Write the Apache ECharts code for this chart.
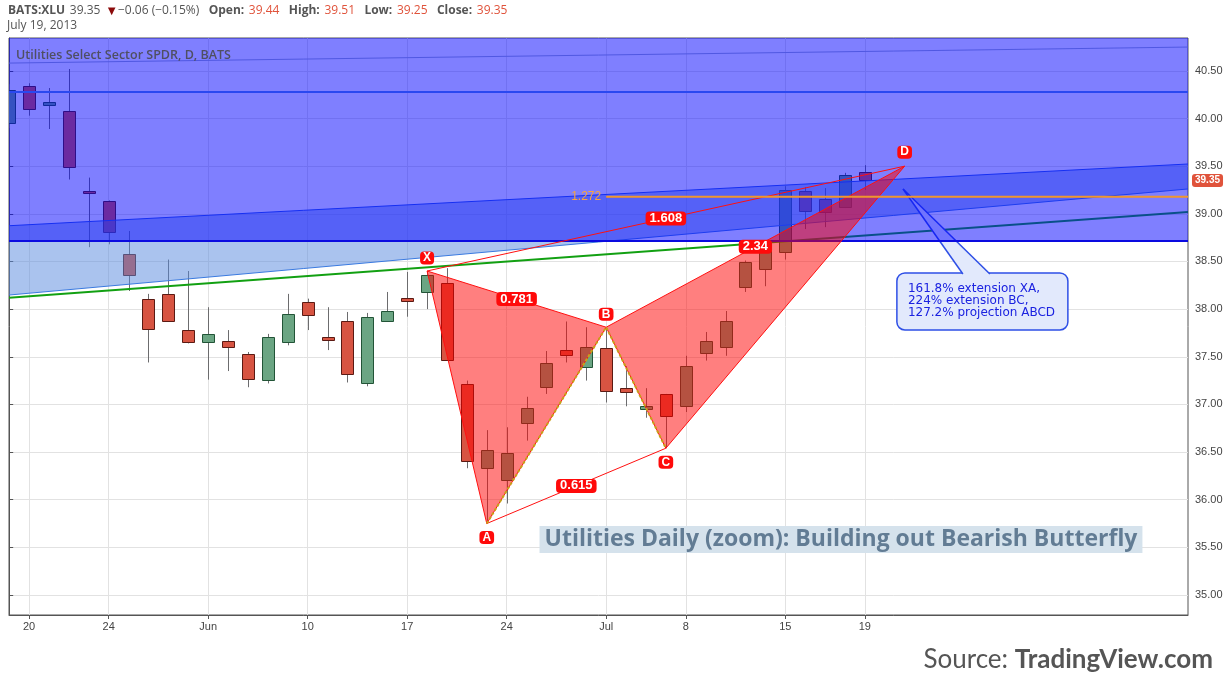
<!DOCTYPE html>
<html><head><meta charset="utf-8">
<script src="https://cdn.jsdelivr.net/npm/echarts@6/dist/echarts.min.js"></script>
<style>html,body{margin:0;padding:0;background:#fff}#chart{width:1227px;height:686px}</style>
</head><body><div id="chart"></div>
<script>
// ---- data ----
const dates = ['2013-05-17','2013-05-20','2013-05-21','2013-05-22','2013-05-23','2013-05-24','2013-05-28','2013-05-29','2013-05-30','2013-05-31',
 '2013-06-03','2013-06-04','2013-06-05','2013-06-06','2013-06-07','2013-06-10','2013-06-11','2013-06-12','2013-06-13','2013-06-14',
 '2013-06-17','2013-06-18','2013-06-19','2013-06-20','2013-06-21','2013-06-24','2013-06-25','2013-06-26','2013-06-27','2013-06-28',
 '2013-07-01','2013-07-02','2013-07-03','2013-07-05','2013-07-08','2013-07-09','2013-07-10','2013-07-11','2013-07-12',
 '2013-07-15','2013-07-16','2013-07-17','2013-07-18','2013-07-19'];
const opens  = [39.95,40.34,40.14,40.08,39.24,39.13,38.58,38.11,38.16,37.78, 37.66,37.67,37.53,37.26,37.65, 38.07,37.71,37.87,37.22,37.88, 38.12,38.18,38.27,37.21,36.33, 36.21,36.80,37.18,37.57,37.39, 37.59,37.17,36.95,37.11, 36.98,37.54,37.60,38.23,38.42, 38.60,39.24,39.16,39.07,39.44];
const highs  = [40.36,40.37,40.32,40.52,39.38,39.14,38.82,38.16,38.52,38.40, 38.02,37.78,37.55,37.74,38.16, 38.11,38.02,37.97,37.96,38.18, 38.39,38.40,38.43,37.25,36.73, 36.76,37.08,37.56,37.87,37.81, 37.81,37.40,37.17,37.11, 37.51,37.76,37.98,38.51,38.66, 39.29,39.28,39.27,39.43,39.51];
const lows   = [39.90,40.03,39.89,39.36,38.65,38.68,38.19,37.44,37.87,37.64, 37.26,37.35,37.18,37.22,37.62, 37.78,37.57,37.23,37.19,37.87, 37.92,38.00,37.47,36.33,35.75, 35.96,36.62,37.11,37.44,37.25, 37.02,36.98,36.86,36.54, 36.92,37.46,37.51,38.18,38.24, 38.52,38.84,38.86,39.06,39.25];
const closes = [40.30,40.10,40.17,39.49,39.22,38.81,38.36,37.79,37.88,37.65, 37.74,37.60,37.27,37.71,37.95, 37.94,37.68,37.32,37.92,37.98, 38.09,38.36,37.47,36.41,36.52, 36.49,36.96,37.43,37.52,37.60, 37.14,37.13,36.98,36.88, 37.40,37.67,37.88,38.49,38.63, 39.25,39.03,39.02,39.41,39.35];

const xTickIdx  = [1,5,10,15,20,25,30,34,39,43];
const xTickText = ['20','24','Jun','10','17','24','Jul','8','15','19'];
const yTicks = [35,35.5,36,36.5,37,37.5,38,38.5,39,39.5,40,40.5];

// harmonic pattern points (index, price)
const patternNames = ['X','A','B','C','D'];
const patternIdx   = [21,24,30,33,45];
const patternPrice = [38.40,35.75,37.81,36.54,39.50];
const ratioFrom = ['X','A','B','X'];
const ratioTo   = ['B','C','D','D'];
const ratioText = ['0.781','0.615','2.34','1.608'];
const fibLevel = 39.18, fibStartIdx = 30, fibText = '1.272';

// drawings (index, price)
const channelUpper = [[-1,38.864],[61,39.542]];
const channelLower = [[-1,38.129],[61,39.294]];
const greenTrend   = [[-1,38.105],[61,39.046]];
const topLine      = [[-1,40.579],[61,40.755]];
const hLevel = 40.278;
const zoneBottom = 38.715, zoneTop = 41.5;
const calloutBox = [44.61,38.379];
const calloutTip = [44.92,39.26];
const calloutLines = ['161.8% extension XA,','224% extension BC,','127.2% projection ABCD'];
const titleBoxAt = [41.80,35.582];
const titleBoxText = 'Utilities Daily (zoom): Building out Bearish Butterfly';

const xMin = -0.01, xMax = 59.24;
// ---- chart ----
const P = {}; patternNames.forEach((n,i)=>P[n]=[patternIdx[i],patternPrice[i]]);
const candleData = opens.map((o,i)=>[i,o,closes[i],lows[i],highs[i]]);

function layer(name,z,clip,build){
  return {type:'custom',name,z,clip,silent:true,data:[[0,38]],
    renderItem:(params,api)=>({type:'group',children:build(api)})};
}
function seg(a,b,style){return {type:'line',shape:{x1:a[0],y1:a[1],x2:b[0],y2:b[1]},style};}

const chart = echarts.init(document.getElementById('chart'));
chart.setOption({
  animation:false,
  backgroundColor:'#fff',
  textStyle:{fontFamily:'Open Sans'},
  title:[
    {left:8,top:2,padding:0,text:'{k|BATS:XLU} {v|39.35} {dn|▼}{v|−0.06 (−0.15%)}  {k|Open:} {r|39.44}  {k|High:} {r|39.51}  {k|Low:} {r|39.25}  {k|Close:} {r|39.35}',
     textStyle:{fontWeight:'normal',rich:{
       k:{fontFamily:'Open Sans',fontSize:12,fontWeight:'bold',color:'#555',lineHeight:16},
       v:{fontFamily:'Open Sans',fontSize:12,fontWeight:'normal',color:'#555',lineHeight:16},
       dn:{fontFamily:'Open Sans',fontSize:13,fontWeight:'normal',color:'#8b0a0a',lineHeight:16},
       r:{fontFamily:'Open Sans',fontSize:12,fontWeight:'normal',color:'#e0533b',lineHeight:16}}}},
    {left:7,top:18,padding:0,text:'July 19, 2013',textStyle:{fontFamily:'Open Sans',fontSize:12,fontWeight:'normal',color:'#555',lineHeight:16}},
    {left:16,top:46,padding:0,text:'Utilities Select Sector SPDR, D, BATS',textStyle:{fontFamily:'Open Sans',fontSize:12.5,fontWeight:600,color:'#4f4f62',lineHeight:18}},
    {right:14,top:645,padding:0,text:'{n|Source: }{b|TradingView.com}',
     textStyle:{fontWeight:'normal',rich:{n:{fontFamily:'Lato',fontSize:26,fontWeight:'normal',color:'#555',lineHeight:30},b:{fontFamily:'Lato',fontSize:26,fontWeight:'bold',color:'#555',lineHeight:30}}}}
  ],
  grid:{left:9,right:39,top:38,bottom:71,show:true,borderColor:'#555',borderWidth:1,backgroundColor:'#fff'},
  xAxis:{type:'value',min:xMin,max:xMax,
    axisLine:{show:true,lineStyle:{color:'#555'}},
    axisTick:{show:true,length:4,customValues:xTickIdx,lineStyle:{color:'#555'}},
    axisLabel:{customValues:xTickIdx,margin:6,fontSize:11,color:'#444',fontFamily:'Liberation Sans Narrow, Liberation Sans',
      formatter:v=>{const k=xTickIdx.indexOf(Math.round(v));return k>=0?xTickText[k]:'';}},
    splitLine:{show:true,lineStyle:{color:'#e2e2e2'}}},
  yAxis:{type:'value',position:'right',min:34.79,max:40.845,scale:true,
    axisLine:{show:true,lineStyle:{color:'#555'}},
    axisTick:{show:true,length:4,customValues:yTicks,lineStyle:{color:'#555'}},
    axisLabel:{customValues:yTicks,margin:7,fontSize:11,color:'#444',fontFamily:'Liberation Sans',formatter:v=>v.toFixed(2)},
    splitLine:{show:true,lineStyle:{color:'#e2e2e2'}}},
  series:[
    {type:'custom',name:'XLU',z:2,clip:true,silent:true,data:candleData,encode:{x:0,y:[1,2,3,4]},
     renderItem:(params,api)=>{
       const x=api.value(0),o=api.value(1),c=api.value(2),l=api.value(3),h=api.value(4);
       const pH=api.coord([x,h]),pL=api.coord([x,l]),pO=api.coord([x,o]),pC=api.coord([x,c]);
       const up=c>=o, w=12, cx=Math.round(pO[0])+0.5;
       const top=Math.round(Math.min(pO[1],pC[1]))+0.5, bot=Math.round(Math.max(pO[1],pC[1]))+0.5;
       return {type:'group',children:[
         {type:'line',shape:{x1:cx,y1:pH[1],x2:cx,y2:pL[1]},style:{stroke:'#6c6c6e',lineWidth:1}},
         {type:'rect',shape:{x:cx-w/2,y:top,width:w,height:Math.max(bot-top,2)},
          style:{fill:up?'#6ba583':'#d75442',stroke:up?'#225437':'#5b1a13',lineWidth:1}}
       ]};}},
    layer('channel',3,true,api=>{
      const u=channelUpper.map(p=>api.coord(p)), l=channelLower.map(p=>api.coord(p)), g=greenTrend.map(p=>api.coord(p));
      return [
        {type:'polygon',shape:{points:[u[0],u[1],l[1],l[0]]},style:{fill:'rgba(85,135,221,0.5)'}},
        seg(u[0],u[1],{stroke:'#2a5ee6',lineWidth:1}),
        seg(l[0],l[1],{stroke:'#3a7ae0',lineWidth:1}),
        seg(g[0],g[1],{stroke:'#12a012',lineWidth:2})
      ];}),
    layer('callout',4,false,api=>{
      const b=api.coord(calloutBox), t=api.coord(calloutTip);
      const w=171,h=57, b1=[b[0]+66,b[1]+1], b2=[b[0]+93,b[1]+1];
      return [
        {type:'rect',shape:{x:b[0],y:b[1],width:w,height:h,r:8},style:{fill:'#e2e9fc',stroke:'#2e4fe6',lineWidth:1.5}},
        {type:'polygon',shape:{points:[t,b1,b2]},style:{fill:'#e2e9fc'}},
        seg(t,b1,{stroke:'#2e4fe6',lineWidth:1.5}),
        seg(t,b2,{stroke:'#2e4fe6',lineWidth:1.5}),
        {type:'text',style:{text:calloutLines.join('\n'),x:b[0]+11,y:b[1]+10,font:'12px "DejaVu Sans"',fill:'#1b22e0',lineHeight:12,verticalAlign:'top',align:'left'}}
      ];}),
    layer('zone',5,true,api=>{
      const a=api.coord([-1,zoneTop]), c=api.coord([61,zoneBottom]);
      return [
        {type:'rect',shape:{x:a[0],y:a[1],width:c[0]-a[0],height:c[1]-a[1]},style:{fill:'rgba(0,0,255,0.5)'}},
        seg([a[0],c[1]],c,{stroke:'#0a0ae0',lineWidth:2})
      ];}),
    layer('levels',6,true,api=>{
      const h1=api.coord([-1,hLevel]), h2=api.coord([61,hLevel]);
      const t=topLine.map(p=>api.coord(p));
      return [seg(h1,h2,{stroke:'#2a48f0',lineWidth:2}), seg(t[0],t[1],{stroke:'#5058e2',lineWidth:1})];}),
    layer('pattern',7,true,api=>{
      const c={}; patternNames.forEach(n=>c[n]=api.coord(P[n]));
      const fillS={fill:'rgba(255,0,0,0.5)',stroke:'#ff1010',lineWidth:1};
      return [
        {type:'polygon',shape:{points:[c.X,c.A,c.B]},style:fillS},
        {type:'polygon',shape:{points:[c.B,c.C,c.D]},style:fillS},
        seg(c.A,c.C,{stroke:'#ff1010',lineWidth:1}),
        seg(c.X,c.D,{stroke:'#ff1010',lineWidth:1}),
        {type:'polyline',shape:{points:[c.A,c.B,c.C]},style:{stroke:'#c8a018',lineWidth:2,lineDash:[3,2],fill:null}}
      ];}),
    layer('fib',8,true,api=>{
      const a=api.coord([fibStartIdx,fibLevel]), b=api.coord([61,fibLevel]);
      return [seg(a,b,{stroke:'#f0962e',lineWidth:2}),
        {type:'text',style:{text:fibText,x:a[0]-5,y:a[1],align:'right',verticalAlign:'middle',font:'12px "Liberation Sans"',fill:'#f7a440'}}];}),
    layer('labels',9,false,api=>{
      const out=[];
      const side=[-13,14,-13,14,-14];
      patternNames.forEach((n,i)=>{const p=api.coord(P[n]);
        out.push({type:'text',style:{text:n,x:p[0],y:p[1]+side[i],align:'center',verticalAlign:'middle',font:'bold 12px "Liberation Sans"',fill:'#fff',backgroundColor:'#ff0a0a',padding:[1,3,0,3],borderRadius:4}});});
      ratioText.forEach((tx,i)=>{const a=api.coord(P[ratioFrom[i]]), b=api.coord(P[ratioTo[i]]);
        out.push({type:'text',style:{text:tx,x:(a[0]+b[0])/2,y:(a[1]+b[1])/2,align:'center',verticalAlign:'middle',font:'bold 13px "Liberation Sans"',fill:'#fff',backgroundColor:'#ff0a0a',padding:[1,4,0,4],borderRadius:4}});});
      const tb=api.coord(titleBoxAt);
      out.push({type:'text',style:{text:titleBoxText,x:tb[0],y:tb[1],align:'center',verticalAlign:'middle',font:'bold 23px "Open Sans"',fill:'#627c94',backgroundColor:'#d5e2ec',padding:[2,5,2,5]}});
      const pm=api.coord([xMax,closes[closes.length-1]]);
      out.push({type:'text',style:{text:closes[closes.length-1].toFixed(2),x:pm[0]+4,y:pm[1],align:'left',verticalAlign:'middle',font:'bold 10px "Liberation Sans"',fill:'#fff',backgroundColor:'#e0533b',padding:[2,3,1,3],borderRadius:3}});
      return out;})
  ]
});
</script></body></html>
